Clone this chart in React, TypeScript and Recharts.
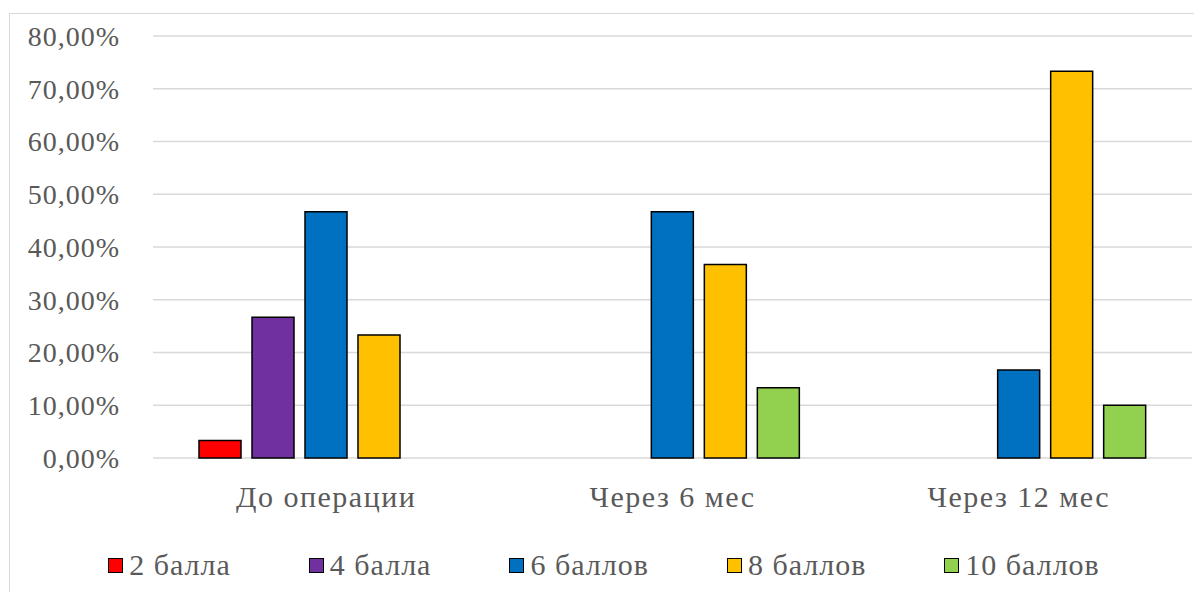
import { BarChart, Bar, XAxis, YAxis, CartesianGrid, Legend } from 'recharts';

const categories = ['До операции', 'Через 6 мес', 'Через 12 мес'];
const seriesNames = ['2 балла', '4 балла', '6 баллов', '8 баллов', '10 баллов'];
const score2 = [3.33, 0, 0];
const score4 = [26.67, 0, 0];
const score6 = [46.67, 46.67, 16.67];
const score8 = [23.33, 36.67, 73.33];
const score10 = [0, 13.33, 10];
const yTicks = [0, 10, 20, 30, 40, 50, 60, 70, 80];

const COLORS = ['#FF0000', '#7030A0', '#0070C0', '#FFC000', '#92D050'];
const FONT = 'Liberation Serif';
const TEXT = '#595959';

const seriesValues = [score2, score4, score6, score8, score10];

const data = categories.map((name, i) => {
    const row: Record<string, string | number> = { name };
    seriesNames.forEach((s, k) => {
        row[s] = seriesValues[k][i];
    });
    return row;
});

const fmt = (v: number) => v.toFixed(2).replace('.', ',') + '%';

function LegendBox() {
    return (
        <div style={{ display: 'flex', justifyContent: 'center', gap: 78, paddingLeft: 14 }}>
            {seriesNames.map((s, i) => (
                <div key={s} style={{ display: 'flex', alignItems: 'center' }}>
                    <span
                        style={{
                            display: 'inline-block',
                            width: 13,
                            height: 13,
                            background: COLORS[i],
                            border: '1.5px solid #000',
                            marginRight: 6,
                        }}
                    />
                    <span style={{ fontFamily: FONT, fontSize: 30, letterSpacing: 1, color: TEXT, lineHeight: '32px' }}>{s}</span>
                </div>
            ))}
        </div>
    );
}

export default function App() {
    return (
        <div style={{ position: 'absolute', left: 0, top: 0, width: 1194, height: 592, background: '#fff', overflow: 'hidden' }}>
            <div
                style={{
                    position: 'absolute',
                    left: 9,
                    top: 13,
                    width: 1300,
                    height: 700,
                    borderLeft: '1.5px solid #d9d9d9',
                    borderTop: '1.5px solid #d9d9d9',
                }}
            />
            <BarChart
                width={1194}
                height={592}
                data={data}
                margin={{ top: 36, right: 2, left: 0, bottom: 74 }}
                barCategoryGap={46}
                barGap={11}
                style={{ fontFamily: FONT }}
            >
                <CartesianGrid vertical={false} stroke="#d9d9d9" strokeWidth={1.5} />
                <XAxis
                    dataKey="name"
                    axisLine={false}
                    tickLine={false}
                    height={60}
                    tickMargin={22}
                    tick={{ fontFamily: FONT, fontSize: 30, fill: TEXT, letterSpacing: 1.5 }}
                />
                <YAxis
                    width={153}
                    domain={[0, 80]}
                    ticks={yTicks}
                    axisLine={false}
                    tickLine={false}
                    tickMargin={27}
                    tickFormatter={fmt}
                    tick={{ fontFamily: FONT, fontSize: 28, fill: TEXT, letterSpacing: 1 }}
                />
                <Legend
                    verticalAlign="middle"
                    layout="horizontal"
                    wrapperStyle={{ top: 549, left: 0, width: 1194 }}
                    content={() => <LegendBox />}
                />
                {seriesNames.map((s, i) => (
                    <Bar key={s} dataKey={s} fill={COLORS[i]} stroke="#000" strokeWidth={1.5} isAnimationActive={false} />
                ))}
            </BarChart>
        </div>
    );
}
